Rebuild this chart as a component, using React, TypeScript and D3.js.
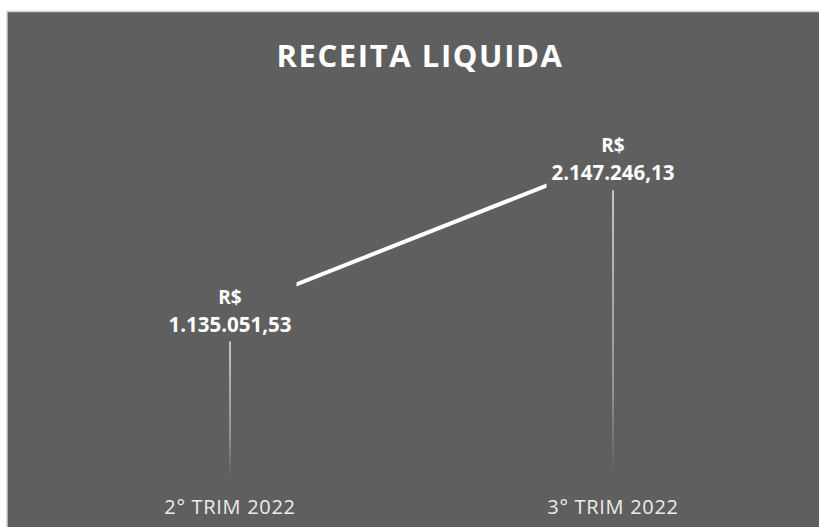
import React, { useEffect, useRef } from "react";
import * as d3 from "d3";

const categories = ["2° TRIM 2022", "3° TRIM 2022"];
const values = [1135051.53, 2147246.13];
const valueLabels = ["1.135.051,53", "2.147.246,13"];
const title = "RECEITA LIQUIDA";

const BG = "#5f5f5f";

const App: React.FC = (): JSX.Element => {
  const ref = useRef<SVGSVGElement>(null);

  useEffect(() => {
    const width = 819, height = 527;
    const svg = d3.select(ref.current);
    svg.selectAll("*").remove();

    svg.append("rect")
      .attr("x", 7).attr("y", 11.5)
      .attr("width", width + 10).attr("height", height)
      .attr("fill", BG)
      .attr("stroke", "#d0d0d0")
      .attr("stroke-width", 1.5);

    // points land at 230 / 613
    const x = d3.scalePoint<string>()
      .domain(categories)
      .range([38.5, 804.5])
      .padding(0.5);

    const y = d3.scaleLinear()
      .domain([0, 2500000])
      .range([480, 106.7]);

    const defs = svg.append("defs");
    const grad = defs.append("linearGradient")
      .attr("id", "dropFade")
      .attr("x1", 0).attr("y1", 0).attr("x2", 0).attr("y2", 1);
    grad.append("stop").attr("offset", "0%").attr("stop-color", "#e0e0e0").attr("stop-opacity", 1);
    grad.append("stop").attr("offset", "70%").attr("stop-color", "#cfcfcf").attr("stop-opacity", 0.6);
    grad.append("stop").attr("offset", "100%").attr("stop-color", "#bfbfbf").attr("stop-opacity", 0);

    svg.append("text")
      .attr("x", 420).attr("y", 67)
      .attr("text-anchor", "middle")
      .attr("fill", "#ffffff")
      .style("font-family", "'Open Sans', sans-serif")
      .style("font-weight", "bold")
      .style("font-size", "31px")
      .style("letter-spacing", "1.6px")
      .text(title);

    const line = d3.line<number>()
      .x((_, i) => x(categories[i]) || 0)
      .y(d => y(d));

    svg.append("path")
      .datum(values)
      .attr("d", line)
      .attr("fill", "none")
      .attr("stroke", "#ffffff")
      .attr("stroke-width", 4);

    // data labels, with a box of background colour that hides the line
    values.forEach((v, i) => {
      const cx = x(categories[i]) || 0;
      const cy = y(v);
      const g = svg.append("g");
      const box = g.append("rect").attr("fill", BG);
      const t = g.append("text")
        .attr("text-anchor", "middle")
        .attr("fill", "#ffffff")
        .style("font-family", "'Open Sans', sans-serif")
        .style("font-weight", "bold");
      t.append("tspan").attr("x", cx).attr("y", cy - 7)
        .style("font-size", "19px")
        .text("R$");
      t.append("tspan").attr("x", cx).attr("y", cy + 21)
        .style("font-size", "20.5px")
        .text(valueLabels[i]);
      const bb = (t.node() as SVGTextElement).getBBox();
      box.attr("x", bb.x - 5).attr("y", bb.y - 3)
        .attr("width", bb.width + 10).attr("height", bb.height + 6);

      svg.append("line")
        .attr("x1", cx).attr("x2", cx + 0.01)
        .attr("y1", bb.y + bb.height + 4)
        .attr("y2", y(0) - 4)
        .attr("stroke", "url(#dropFade)")
        .attr("stroke-width", 1.6);
    });

    svg.append("g")
      .selectAll("text")
      .data(categories)
      .enter().append("text")
      .attr("x", d => x(d) || 0)
      .attr("y", 514)
      .attr("text-anchor", "middle")
      .attr("fill", "#ececec")
      .style("font-family", "'Open Sans', sans-serif")
      .style("font-size", "20px")
      .style("letter-spacing", "0.7px")
      .text(d => d);
  }, []);

  return (
    <svg ref={ref} width={819} height={527}
         style={{ position: "absolute", left: 0, top: 0, background: "#ffffff" }}>
    </svg>
  );
};

export default App;
